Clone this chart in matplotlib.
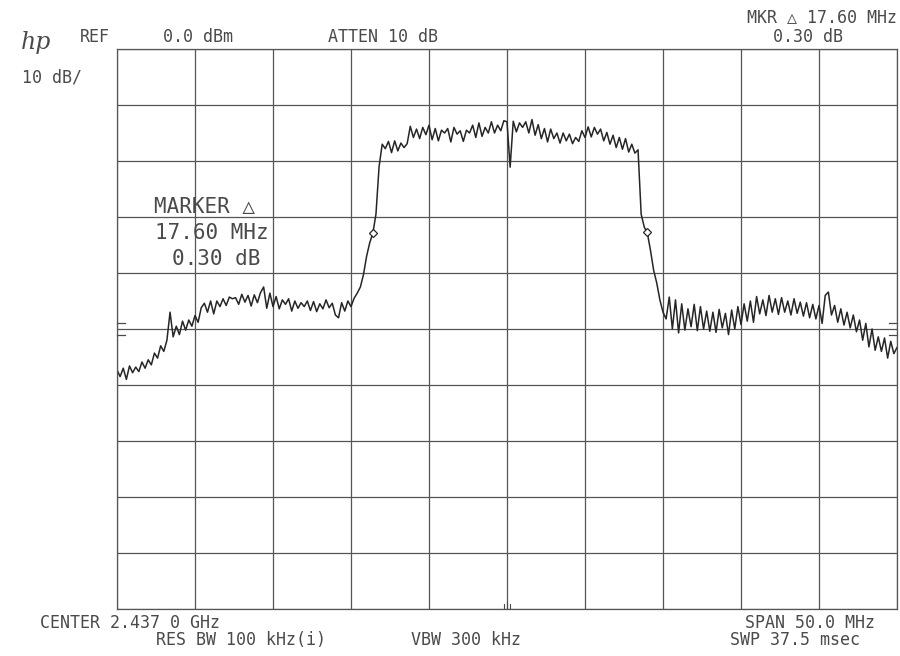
import numpy as np
import matplotlib
matplotlib.use('Agg')
import matplotlib.pyplot as plt

# analyzer settings
center_mhz = 2437.0
span_mhz = 50.0
ref_dbm = 0.0
db_per_div = 10.0

# trace, dBm, 251 points evenly spaced over the span
level = [
  # 2412 - 2417.4  rising skirt on the left
  -57.3, -58.5, -57.0, -59.0, -56.6, -57.8, -56.8, -57.6, -55.9, -57.0,
  -55.5, -56.4, -54.3, -55.2, -53.0, -54.0, -52.0, -47.0, -51.4, -49.5,
  -51.0, -48.6, -50.2, -48.4, -49.5, -47.6, -48.8, -46.2,
  # 2417.6 - 2427.0  left shoulder
  -45.4, -47.0, -45.0, -47.3, -45.0, -46.0, -44.6, -45.8, -44.3, -44.6,
  -44.4, -45.6, -43.8, -45.2, -44.0, -45.9, -43.9, -45.3, -43.5, -42.5,
  -46.3, -43.6, -46.0, -44.2, -46.4, -44.8, -45.6, -44.6, -46.8, -45.0,
  -46.3, -45.3, -46.0, -45.0, -46.7, -45.1, -46.9, -45.5, -46.4, -44.8,
  -46.2, -45.4, -47.5, -48.0, -45.3, -46.8, -45.0, -46.0,
  # 2427.2 - 2429.0  left edge of the channel
  -44.5, -43.6, -42.5, -40.3, -37.0, -34.6, -32.9, -29.5, -21.0, -17.0,
  # 2429.2 - 2445.4  channel top
  -17.8, -16.5, -18.5, -16.4, -18.2, -16.8, -17.6, -16.9, -13.8, -15.8,
  -14.3, -16.0, -14.0, -15.3, -13.6, -16.2, -14.2, -16.4, -14.5, -15.0,
  -14.2, -16.6, -14.0, -15.2, -14.6, -16.5, -14.5, -15.0, -13.6, -15.8,
  -13.2, -15.6, -14.0, -15.0, -13.0, -15.0, -13.6, -14.6, -12.8, -13.0,
  -21.1, -12.9, -14.8, -13.2, -14.0, -13.0, -15.0, -12.6, -15.4, -13.5,
  -16.0, -14.2, -16.6, -14.3, -16.0, -15.0, -16.8, -15.0, -16.4, -15.2,
  -16.9, -15.8, -16.5, -14.6, -15.8, -13.9, -15.7, -14.0, -15.2, -14.3,
  -16.4, -14.9, -17.0, -15.4, -17.6, -15.8, -17.9, -16.0, -18.4, -17.0,
  -18.6, -18.0,
  # 2445.6 - 2447.2  right edge of the channel
  -29.5, -31.8, -32.9, -36.0, -39.5, -41.8, -44.8, -47.0, -48.2,
  # 2447.4 - 2462  right shoulder
  -44.3, -50.0, -44.8, -50.7, -45.5, -50.2, -46.4, -49.6, -45.6, -50.3,
  -46.0, -50.0, -46.8, -50.4, -47.0, -50.6, -46.5, -49.8, -47.2, -51.0,
  -46.6, -50.0, -46.0, -49.2, -45.5, -48.6, -45.0, -48.8, -44.2, -47.3,
  -44.8, -47.6, -44.0, -47.0, -44.6, -47.4, -44.4, -47.0, -45.0, -47.5,
  -44.6, -47.2, -45.2, -47.7, -45.3, -48.0, -45.6, -48.2, -45.8, -49.0,
  -44.0, -43.4, -47.5, -45.8, -48.8, -46.4, -49.3, -47.0, -49.8, -47.5,
  -50.5, -48.4, -52.0, -49.0, -53.2, -50.0, -53.8, -51.4, -54.0, -51.6,
  -55.2, -52.2, -54.4, -53.3,
]

# delta marker pair
mkr_freq = [2428.4, 2446.0]
mkr_level = [-32.9, -32.6]

# display line ticks on the side borders
dl_levels = [-48.9, -51.1]

fstart = center_mhz - span_mhz/2
fstop = center_mhz + span_mhz/2
freq = np.linspace(fstart, fstop, len(level))

W, H = 900, 656
fig = plt.figure(figsize=(W/100., H/100.), dpi=100)
fig.patch.set_facecolor('white')

# plot area in pixels: x 117..897, y 49..609
ax = fig.add_axes([117./W, 1-609./H, 780./W, 560./H])
ink = '#4a4a4a'

ax.plot(freq, level, color='#262626', lw=1.1)
ax.plot(mkr_freq, mkr_level, 'D', ms=4, mfc='white', mec='#262626', mew=0.9)

ax.set_xlim(fstart, fstop)
ax.set_ylim(ref_dbm - 10*db_per_div, ref_dbm)
ax.set_xticks(np.linspace(fstart, fstop, 11))
ax.set_yticks(np.arange(ref_dbm - 10*db_per_div, ref_dbm + 1, db_per_div))
ax.grid(True, color='#555555', lw=0.9)
ax.tick_params(length=0, labelbottom=False, labelleft=False)
for s in ax.spines.values():
  s.set_color('#555555')
  s.set_linewidth(0.9)

# small marks on the borders
tick_w = span_mhz*8/780.
for d in dl_levels:
  ax.plot([fstart, fstart + tick_w], [d, d], color=ink, lw=0.9, clip_on=False)
  ax.plot([fstop - tick_w, fstop], [d, d], color=ink, lw=0.9, clip_on=False)
bot = ref_dbm - 10*db_per_div
for dx, hgt in [(-0.2, 0.9), (0.0, 1.3), (0.2, 0.9)]:
  ax.plot([center_mhz + dx]*2, [bot, bot + hgt], color=ink, lw=0.8)

def put(x, y, s, size=12, ha='center', **kw):
  fig.text(x/W, 1 - y/H, s, fontsize=size, ha=ha, va='center',
           family='DejaVu Sans Mono', color=ink, **kw)

fig.text(36./W, 1 - 42./H, 'hp', fontsize=17, ha='center', va='center',
         family='DejaVu Serif', style='italic', color=ink)
put(80, 37, 'REF', ha='left')
put(198, 37, '0.0 dBm')
put(383, 37, 'ATTEN 10 dB')
put(52, 77, '10 dB/')
put(897, 17, 'MKR \u25b3 17.60 MHz', ha='right')
put(808, 37, '0.30 dB')

put(205, 207, 'MARKER \u25b3', size=15)
put(212, 233, '17.60 MHz', size=15)
put(216, 259, '0.30 dB', size=15)

put(130, 623, 'CENTER 2.437 0 GHz')
put(810, 623, 'SPAN 50.0 MHz')
put(241, 640, 'RES BW 100 kHz(i)')
put(466, 640, 'VBW 300 kHz')
put(795, 640, 'SWP 37.5 msec')

fig.savefig('out.png', dpi=100)
